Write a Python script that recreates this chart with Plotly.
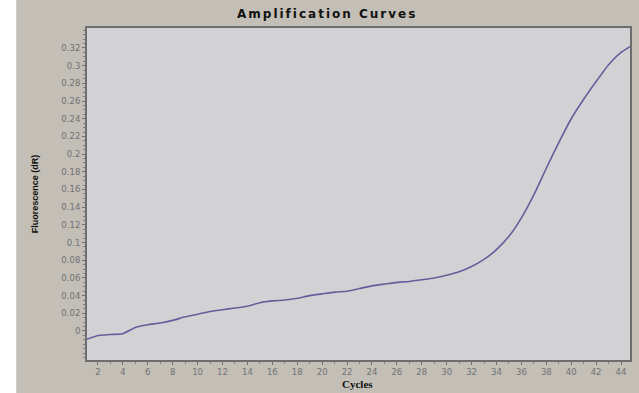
import plotly.graph_objects as go

cycles = list(range(1, 46))
fluorescence = [
    -0.010, -0.005, -0.004, -0.003, 0.004, 0.007, 0.009, 0.012, 0.016, 0.019,
    0.022, 0.024, 0.026, 0.028, 0.032, 0.034, 0.035, 0.037, 0.040, 0.042,
    0.044, 0.045, 0.048, 0.051, 0.053, 0.055, 0.056, 0.058, 0.060, 0.063,
    0.067, 0.073, 0.081, 0.092, 0.107, 0.128, 0.154, 0.184, 0.213, 0.240,
    0.262, 0.282, 0.301, 0.315, 0.324,
]
x_ticks = list(range(2, 45, 2))
y_ticks = [round(0.02 * i, 2) for i in range(0, 17)]

title_text = "Amplification Curves"
x_title = "Cycles"
y_title = "Fluorescence (dR)"

fig = go.Figure()
fig.add_trace(go.Scatter(
    x=cycles, y=fluorescence, mode="lines",
    line=dict(color="#6a5c9c", width=1.6, shape="spline", smoothing=0.5),
    showlegend=False, hoverinfo="skip",
))

tick_font = dict(family="DejaVu Sans, sans-serif", size=8.5, color="#727272")

fig.update_layout(
    width=639, height=393,
    margin=dict(l=87, r=7, t=28, b=33),
    paper_bgcolor="#c3beb6",
    plot_bgcolor="#d2d2d4",
    xaxis=dict(
        range=[1.12, 44.72], tickvals=x_ticks, ticktext=[str(v) for v in x_ticks],
        ticks="outside", ticklen=3, tickcolor="#707070", tickwidth=1,
        minor=dict(dtick=1, tick0=0, ticks="outside", ticklen=2, tickcolor="#808080"),
        showgrid=False, zeroline=False,
        showline=True, linecolor="#6e6e6e", linewidth=2, mirror=True,
        tickfont=tick_font,
    ),
    yaxis=dict(
        range=[-0.0328, 0.3426], tickvals=y_ticks, ticktext=[f"{v:g}" for v in y_ticks],
        ticks="outside", ticklen=3, tickcolor="#707070", tickwidth=1,
        minor=dict(dtick=0.005, tick0=0, ticks="outside", ticklen=2, tickcolor="#808080"),
        showgrid=False, zeroline=False,
        showline=True, linecolor="#6e6e6e", linewidth=2, mirror=True,
        tickfont=tick_font,
    ),
    annotations=[
        dict(text=f"<b><span style='letter-spacing:2px'>{title_text}</span></b>",
             xref="paper", yref="paper", x=(328 - 87) / 545, y=1 + 14 / 332,
             xanchor="center", yanchor="middle", showarrow=False,
             font=dict(family="DejaVu Sans, sans-serif", size=12, color="#111111")),
        dict(text=f"<b>{x_title}</b>",
             xref="paper", yref="paper", x=(358 - 87) / 545, y=-(384 - 360) / 332,
             xanchor="center", yanchor="middle", showarrow=False,
             font=dict(family="Liberation Serif, serif", size=11, color="#111111")),
        dict(text=f"<b>{y_title}</b>", textangle=-90,
             xref="paper", yref="paper", x=(35 - 87) / 545, y=0.5,
             xanchor="center", yanchor="middle", showarrow=False,
             font=dict(family="Liberation Sans Narrow, Liberation Sans, sans-serif", size=9, color="#111111")),
    ],
    shapes=[
        dict(type="rect", xref="paper", yref="paper",
             x0=-0.2, x1=(16 - 87) / 545, y0=-0.2, y1=1.2,
             fillcolor="white", line=dict(width=0), layer="below"),
    ],
)

fig.write_html("out.html")
